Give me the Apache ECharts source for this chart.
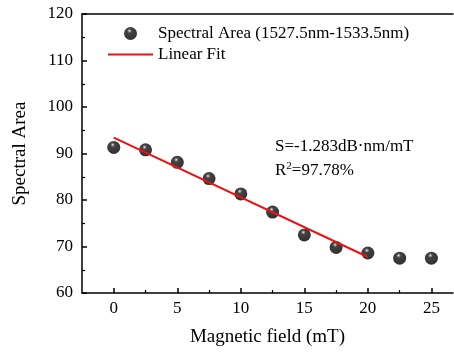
<!DOCTYPE html>
<html><head><meta charset="utf-8">
<script src="https://cdn.jsdelivr.net/npm/echarts@6/dist/echarts.min.js"></script>
<style>html,body{margin:0;padding:0;background:#fff}#c{width:454px;height:352px}</style>
</head><body><div id="c"></div>
<script>
var fieldX = [0, 2.5, 5, 7.5, 10, 12.5, 15, 17.5, 20, 22.5, 25];
var areaY = [91.3, 90.8, 88.1, 84.6, 81.3, 77.4, 72.5, 69.8, 68.6, 67.5, 67.5];
var fitX = [0, 20];
var fitY = [93.4, 67.74];
var xMajorTicks = [0, 5, 10, 15, 20, 25];
var xMinorTicks = [2.5, 7.5, 12.5, 17.5, 22.5];
var seriesNames = ['Spectral Area (1527.5nm-1533.5nm)', 'Linear Fit'];
var annotation1 = 'S=-1.283dB·nm/mT';
var annotation2 = ['R', '2', '=97.78%'];

var font = '"Liberation Serif", "Times New Roman", serif';
var chart = echarts.init(document.getElementById('c'));
var ball = {
  type: 'radial', x: 0.42, y: 0.3, r: 0.62,
  colorStops: [{offset: 0, color: '#ffffff'}, {offset: 0.1, color: '#8a8a8a'}, {offset: 0.28, color: '#141414'}, {offset: 1, color: '#000'}]
};
chart.setOption({
  animation: false,
  grid: {left: 82, top: 14, right: 1, bottom: 57},
  legend: {
    orient: 'vertical', left: 108, top: 25, padding: 0, itemWidth: 45, itemHeight: 13, itemGap: 4,
    textStyle: {fontFamily: font, fontSize: 17, color: '#000'},
    data: [{name: seriesNames[0], icon: 'circle'}, {name: seriesNames[1], icon: 'path://M0 0H45V2H0Z'}]
  },
  xAxis: [{
    type: 'value', min: -2.5, max: 26.7, position: 'bottom',
    name: 'Magnetic field (mT)', nameLocation: 'middle', nameGap: 35,
    nameTextStyle: {fontFamily: font, fontSize: 19, color: '#000'},
    axisLine: {onZero: false, lineStyle: {color: '#000', width: 1.5}},
    axisTick: {inside: true, length: 5, customValues: xMajorTicks, lineStyle: {color: '#000', width: 1.5}},
    axisLabel: {customValues: xMajorTicks, fontFamily: font, fontSize: 17, color: '#000', margin: 7},
    splitLine: {show: false}
  }, {
    type: 'value', min: -2.5, max: 26.7, position: 'bottom',
    axisLine: {show: false, onZero: false},
    axisTick: {inside: true, length: 3, customValues: xMinorTicks, lineStyle: {color: '#000', width: 1.2}},
    axisLabel: {show: false},
    splitLine: {show: false}
  }, {
    type: 'value', min: -2.5, max: 26.7, position: 'top',
    axisLine: {onZero: false, lineStyle: {color: '#000', width: 1.5}},
    axisTick: {show: false}, axisLabel: {show: false}, splitLine: {show: false}
  }],
  yAxis: {
    type: 'value', min: 60, max: 120, interval: 10,
    name: 'Spectral Area', nameLocation: 'middle', nameGap: 52,
    nameTextStyle: {fontFamily: font, fontSize: 19, color: '#000'},
    axisLine: {show: true, onZero: false, lineStyle: {color: '#000', width: 1.5}},
    axisTick: {inside: true, length: 5, lineStyle: {color: '#000', width: 1.5}},
    minorTick: {show: true, splitNumber: 2, length: 3, lineStyle: {color: '#000', width: 1.2}},
    axisLabel: {fontFamily: font, fontSize: 17, color: '#000', margin: 9},
    splitLine: {show: false}
  },
  series: [{
    name: seriesNames[0], type: 'scatter', symbol: 'circle', symbolSize: 13,
    itemStyle: {color: ball},
    data: fieldX.map(function (x, i) { return [x, areaY[i]]; }), z: 3
  }, {
    name: seriesNames[1], type: 'line', symbol: 'none', showSymbol: false,
    lineStyle: {color: '#ee1111', width: 2}, itemStyle: {color: '#ee1111'},
    data: fitX.map(function (x, i) { return [x, fitY[i]]; }), z: 4
  }],
  graphic: [{
    type: 'text', left: 275, top: 138,
    style: {text: annotation1, font: '17px ' + font, fill: '#000'}
  }, {
    type: 'text', left: 275, top: 161,
    style: {
      text: '{a|' + annotation2[0] + '}{s|' + annotation2[1] + '}{a|' + annotation2[2] + '}',
      rich: {
        a: {fontFamily: font, fontSize: 17, color: '#000'},
        s: {fontFamily: font, fontSize: 11, color: '#000', verticalAlign: 'top', padding: [0, 0, 8, 0]}
      }
    }
  }]
});
</script></body></html>
